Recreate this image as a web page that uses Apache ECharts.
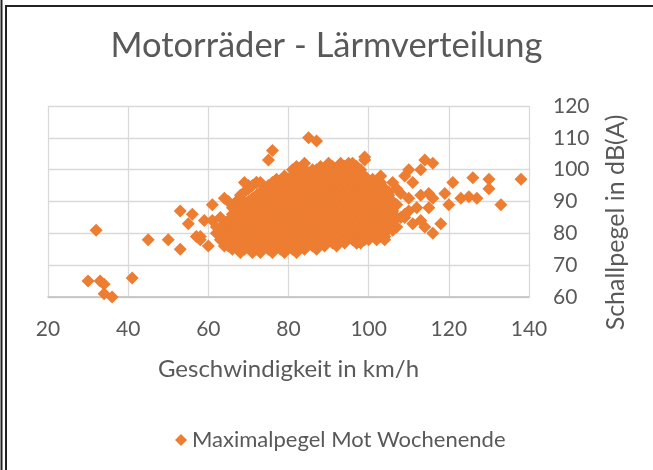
<!DOCTYPE html>
<html>
<head>
<meta charset="utf-8">
<script src="https://cdn.jsdelivr.net/npm/echarts@6/dist/echarts.min.js"></script>
<style>
html, body { margin: 0; padding: 0; background: #fff; }
#chart { width: 653px; height: 470px; }
</style>
</head>
<body>
<div id="chart"></div>
<script>
// Axis ticks
const xTicks = { min: 20, max: 140, interval: 20 };
const yTicks = { min: 60, max: 120, interval: 10 };

// Dense core of the cloud: noise level (dB(A)) per row and the speeds (km/h) read in that row
const coreLevels = [74, 75, 76, 77, 78, 79, 80, 81, 82, 83, 84, 85, 86, 87, 88, 89, 90, 91, 92, 93, 94, 95, 96, 97, 98, 99, 100, 101, 102];
const coreSpeeds = [
  [68, 71, 73, 76, 79, 82],
  [66, 69, 72, 75, 78, 81, 84, 87],
  [65, 68, 71, 74, 77, 80, 83, 86, 89, 92],
  [64, 67, 70, 73, 76, 79, 82, 85, 88, 91, 94, 97],
  [63, 66, 69, 72, 75, 78, 81, 84, 87, 90, 93, 96, 99, 102],
  [64, 67, 70, 73, 76, 79, 82, 85, 88, 91, 94, 97, 100, 103],
  [62, 65, 68, 71, 74, 77, 80, 83, 86, 89, 92, 95, 98, 101, 104],
  [64, 67, 70, 73, 76, 79, 82, 85, 88, 91, 94, 97, 100, 103, 106],
  [65, 68, 71, 74, 77, 80, 83, 86, 89, 92, 95, 98, 101, 104, 107],
  [64, 66, 69, 72, 75, 78, 81, 84, 87, 90, 93, 96, 99, 102, 105],
  [65, 67, 70, 73, 76, 79, 82, 85, 88, 91, 94, 97, 100, 103, 106],
  [66, 68, 71, 74, 77, 80, 83, 86, 89, 92, 95, 98, 101, 104, 107],
  [66, 69, 72, 75, 78, 81, 84, 87, 90, 93, 96, 99, 102, 105],
  [67, 70, 73, 76, 79, 82, 85, 88, 91, 94, 97, 100, 103, 106],
  [66, 68, 71, 74, 77, 80, 83, 86, 89, 92, 95, 98, 101, 104],
  [67, 69, 72, 75, 78, 81, 84, 87, 90, 93, 96, 99, 102, 105],
  [67, 70, 73, 76, 79, 82, 85, 88, 91, 94, 97, 100, 103, 106],
  [68, 71, 74, 77, 80, 83, 86, 89, 92, 95, 98, 101, 104],
  [68, 72, 75, 78, 81, 84, 87, 90, 93, 96, 99, 102, 105],
  [69, 73, 76, 79, 82, 85, 88, 91, 94, 97, 100, 103],
  [70, 74, 77, 80, 83, 86, 89, 92, 95, 98, 101, 104],
  [71, 75, 78, 81, 84, 87, 90, 93, 96, 99, 102],
  [72, 76, 79, 82, 85, 88, 91, 94, 97, 100, 103],
  [77, 80, 83, 86, 89, 92, 95, 98, 101],
  [79, 81, 84, 87, 90, 93, 96, 99],
  [82, 85, 88, 91, 94, 97],
  [84, 86, 89, 92, 95, 98],
  [88, 91, 94, 97],
  [90, 93, 96]
];

// Scattered points around the cloud: [speed km/h, level dB(A)]
const slowPoints = [
  [30, 65], [33, 65], [34, 64], [34, 61], [36, 60], [41, 66], [32, 81],
  [45, 78], [50, 78], [53, 75], [53, 87], [56, 86], [55, 83], [57, 79], [58, 79],
  [59, 84], [60, 76], [61, 89], [61, 84], [63, 85], [63, 81], [64, 91], [65, 90],
  [62, 82], [58, 78], [64, 76], [70, 95], [72, 96], [69, 96], [73, 96], [77, 96]
];
const loudPoints = [
  [76, 106], [75, 103], [85, 110], [87, 109], [84, 102], [81, 100], [82, 101],
  [87, 100], [88, 100], [90, 101], [95, 102], [99, 104], [99, 103], [97, 99]
];
const fastPoints = [
  [103, 98], [106, 96], [110, 100], [109, 98], [113, 100], [114, 103], [116, 102],
  [111, 96], [121, 96], [126, 97.5], [130, 97], [138, 97], [130, 94], [133, 89],
  [127, 91], [125, 91.5], [123, 91], [119, 92.5], [120, 89], [116, 91], [115, 92.5],
  [113, 92], [108, 92.5], [107, 89], [110, 87], [112, 88], [115, 88], [111, 83],
  [114, 82], [116, 80], [118, 83], [113, 84], [109, 85], [108, 85], [104, 79],
  [98, 77], [97, 77], [109, 86], [110, 91], [107, 94], [105, 93], [104, 78], [100, 78]
];

const seriesName = 'Maximalpegel Mot Wochenende';
const titleText = 'Motorräder - Lärmverteilung';
const xName = 'Geschwindigkeit in km/h';
const yName = 'Schallpegel in dB(A)';

const points = [];
coreLevels.forEach((lvl, i) => coreSpeeds[i].forEach(s => points.push([s, lvl])));
slowPoints.concat(loudPoints, fastPoints).forEach(p => points.push(p));

const FONT = 'Lato';
const TXT = '#595959';
const GRID = '#d9d9d9';

const chart = echarts.init(document.getElementById('chart'), null, { renderer: 'canvas' });
chart.setOption({
  animation: false,
  backgroundColor: '#ffffff',
  textStyle: { fontFamily: FONT },
  title: {
    text: titleText, left: 'center', top: 23,
    textStyle: { fontFamily: FONT, fontSize: 34.5, fontWeight: 'normal', color: TXT }
  },
  legend: {
    left: 170, top: 424, icon: 'diamond', itemWidth: 12, itemHeight: 12, itemGap: 8,
    textStyle: { fontFamily: FONT, fontSize: 22, color: TXT },
    data: [seriesName]
  },
  grid: { left: 48, right: 124, top: 106, bottom: 173, containLabel: false },
  xAxis: {
    type: 'value', min: xTicks.min, max: xTicks.max, interval: xTicks.interval,
    name: xName, nameLocation: 'middle', nameGap: 60,
    nameTextStyle: { fontFamily: FONT, fontSize: 24, color: TXT },
    axisLine: { show: true, lineStyle: { color: '#bfbfbf', width: 1.5 } },
    axisTick: { show: false },
    axisLabel: { margin: 22, fontFamily: FONT, fontSize: 21, color: TXT },
    splitLine: { show: true, lineStyle: { color: GRID, width: 1.3 } }
  },
  yAxis: {
    type: 'value', position: 'right', min: yTicks.min, max: yTicks.max, interval: yTicks.interval,
    name: yName, nameLocation: 'middle', nameGap: 74, nameRotate: 90,
    nameTextStyle: { fontFamily: FONT, fontSize: 25, color: TXT, padding: [0, 42, 0, 0] },
    axisLine: { show: false },
    axisTick: { show: false },
    axisLabel: { margin: 24, fontFamily: FONT, fontSize: 21, color: TXT },
    splitLine: { show: true, lineStyle: { color: GRID, width: 1.3 } }
  },
  series: [{
    name: seriesName, type: 'scatter', symbol: 'diamond', symbolSize: 13,
    itemStyle: { color: '#ED7D31', opacity: 1 },
    data: points
  }],
  graphic: [
    { type: 'line', shape: { x1: 1.5, y1: 0, x2: 1.5, y2: 470 }, style: { stroke: '#222', lineWidth: 2 } },
    { type: 'rect', shape: { x: 6, y: 6, width: 700, height: 520 }, style: { fill: 'none', stroke: '#222', lineWidth: 2 } }
  ]
});
</script>
</body>
</html>
